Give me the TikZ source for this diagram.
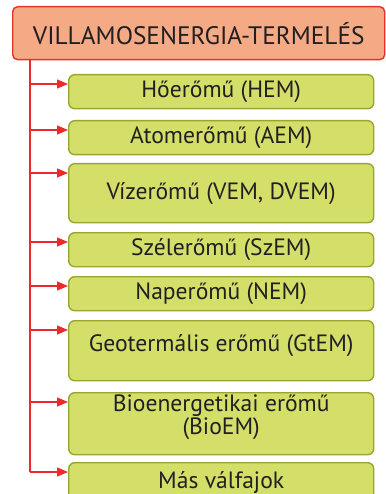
\documentclass[tikz,border=0pt]{standalone}
\usepackage{fontspec}
\setmainfont{PT Sans}
\usetikzlibrary{arrows.meta,positioning,calc}
\definecolor{hdrfill}{HTML}{F5AA86}
\definecolor{hdrline}{HTML}{E8312B}
\definecolor{boxfill}{HTML}{D4DF6A}
\definecolor{boxline}{HTML}{98A631}
\definecolor{arrred}{HTML}{EC2A2D}
\definecolor{txt}{HTML}{231F20}

\begin{document}
\begin{tikzpicture}[x=1pt, y=-1pt,
hdr/.style={draw=hdrline, fill=hdrfill, line width=1.4pt, rounded corners=5pt, anchor=north west,
              minimum width=372pt, minimum height=53pt, inner sep=0pt, text=txt,
              font=\fontsize{25.3}{28}\selectfont},
kind/.style={draw=boxline, fill=boxfill, line width=1.4pt, rounded corners=6pt, anchor=north west,
              minimum width=305pt, inner sep=0pt, align=center, text=txt,
              font=\fontsize{23.6}{23.5}\selectfont},
lnk/.style={arrred, line width=1.4pt},
arr/.style={lnk, -{Triangle[length=11pt, width=9pt]}},
]
\useasboundingbox (0,0) rectangle (385,494);

\node[hdr] (VET) at (12,6) {VILLAMOSENERGIA-TERMELÉS};

\node[kind, minimum height=34pt] (HEM) at (68,74) {Hőerőmű (HEM)};
\node[kind, minimum height=34pt] (AEM) at (68,120) {Atomerőmű (AEM)};
\node[kind, minimum height=59pt] (VEM) at (68,163) {Vízerőmű (VEM, DVEM)};
\node[kind, minimum height=34pt] (SzEM) at (68,232) {Szélerőmű (SzEM)};
\node[kind, minimum height=34pt] (NEM) at (68,276) {Naperőmű (NEM)};
\node[kind, minimum height=60pt, text depth=16pt] (GtEM) at (68,320) {Geotermális erőmű (GtEM)};
\node[kind, minimum height=62pt, text depth=18pt] (BioEM) at (68,392) {Bioenergetikai erőmű\\(BioEM)};
\node[kind, minimum height=40pt] (MAS) at (68,462) {Más válfajok};

\coordinate (foot) at ($(VET.south west)+(18,0)$);
\foreach \k in {HEM,AEM,VEM,SzEM,NEM,GtEM,BioEM,MAS} {
  \coordinate (\k-in) at ($(\k.north west)+(0,10)$);
  \draw[arr] (\k-in -| foot) -- (\k-in);
}
\draw[lnk] (foot) -- (MAS-in -| foot);
\end{tikzpicture}
\end{document}
